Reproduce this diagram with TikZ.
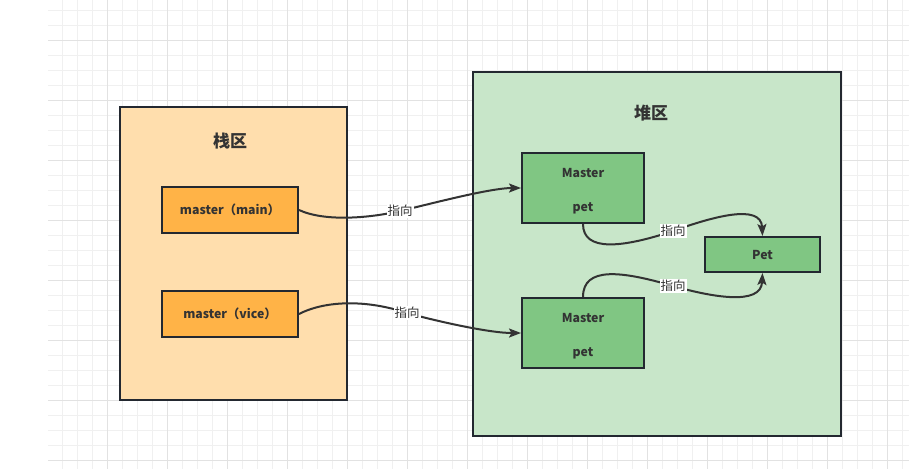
\documentclass[tikz,border=0pt]{standalone}
\usepackage{fontspec}
\setmainfont{Noto Sans CJK SC}
\usetikzlibrary{arrows.meta}
\definecolor{gridminor}{HTML}{F0F0F0}
\definecolor{gridmajor}{HTML}{E2E2E2}
\definecolor{edge}{HTML}{232830}
\definecolor{txt}{HTML}{333333}
\definecolor{stackfill}{HTML}{FFDEAD}
\definecolor{orangebox}{HTML}{FFB347}
\definecolor{heapfill}{HTML}{C8E6C9}
\definecolor{greenbox}{HTML}{80C683}
\definecolor{arrowc}{HTML}{333333}
\newcommand{\tallstrut}{\rule{0pt}{15.5pt}}
\tikzset{
  region/.style={draw=edge, line width=2pt, inner sep=0pt},
  box/.style={draw=edge, line width=2pt, inner sep=0pt, text=txt, font=\bfseries\fontsize{12.3}{34}\selectfont, align=center},
  titletext/.style={text=txt, font=\bfseries\fontsize{17}{20}\selectfont},
  lbl/.style={fill=white, inner sep=1pt, text=txt, font=\fontsize{12.5}{14}\selectfont},
  link/.style={draw=arrowc, line width=2pt, -{Stealth[length=12pt,width=9pt,inset=2.5pt]}},
}
\begin{document}
\begin{tikzpicture}[x=1pt,y=-1pt]
\useasboundingbox (0,0) rectangle (909,469);
% grid
\foreach \x in {62,77,...,908} \draw[gridminor, line width=1pt] (\x,0) -- (\x,469);
\foreach \y in {10,25,...,468} \draw[gridminor, line width=1pt] (48,\y) -- (909,\y);
\foreach \x in {107,167,...,908} \draw[gridmajor, line width=1pt] (\x,0) -- (\x,469);
\foreach \y in {40,100,...,468} \draw[gridmajor, line width=1pt] (48,\y) -- (909,\y);

% regions
\node[region, fill=stackfill, minimum width=227pt, minimum height=293pt] (stack) at (233.5,253.5) {};
\node[titletext] (stacktitle) at (230,141) {栈区};
\node[region, fill=heapfill, minimum width=368pt, minimum height=364pt] (heap) at (657,254) {};
\node[titletext] (heaptitle) at (651,113.5) {堆区};

% boxes
\node[box, fill=orangebox, minimum width=136pt, minimum height=46pt] (mm) at (230,210) {master（main）};
\node[box, fill=orangebox, minimum width=136pt, minimum height=46pt] (mv) at (230,314) {master（vice）};
\node[box, fill=greenbox, minimum width=122pt, minimum height=70pt] (tm) at (583,188) {\tallstrut Master\\pet};
\node[box, fill=greenbox, minimum width=122pt, minimum height=70pt] (bm) at (583,333) {\tallstrut Master\\pet};
\node[box, fill=greenbox, minimum width=115pt, minimum height=35pt] (pet) at (762.5,254.5) {Pet};

% connectors
\draw[link] (mm.east) .. controls (325,222) and (370,218) .. (400,211) node[lbl] {指向}
  .. controls (430,204) and (490,188) .. (tm.west);
\draw[link] (mv.east) .. controls (322,302) and (362,298) .. (407,313) node[lbl] {指向}
  .. controls (440,322) and (490,333) .. (bm.west);
\draw[link] (tm.south) .. controls (583,252) and (622,248) .. (673,231) node[lbl] {指向}
  .. controls (712,217) and (761,203) .. (pet.north);
\draw[link] (bm.north) .. controls (583,266) and (622,271) .. (673,286) node[lbl] {指向}
  .. controls (712,297) and (761,306) .. (pet.south);
\end{tikzpicture}
\end{document}
